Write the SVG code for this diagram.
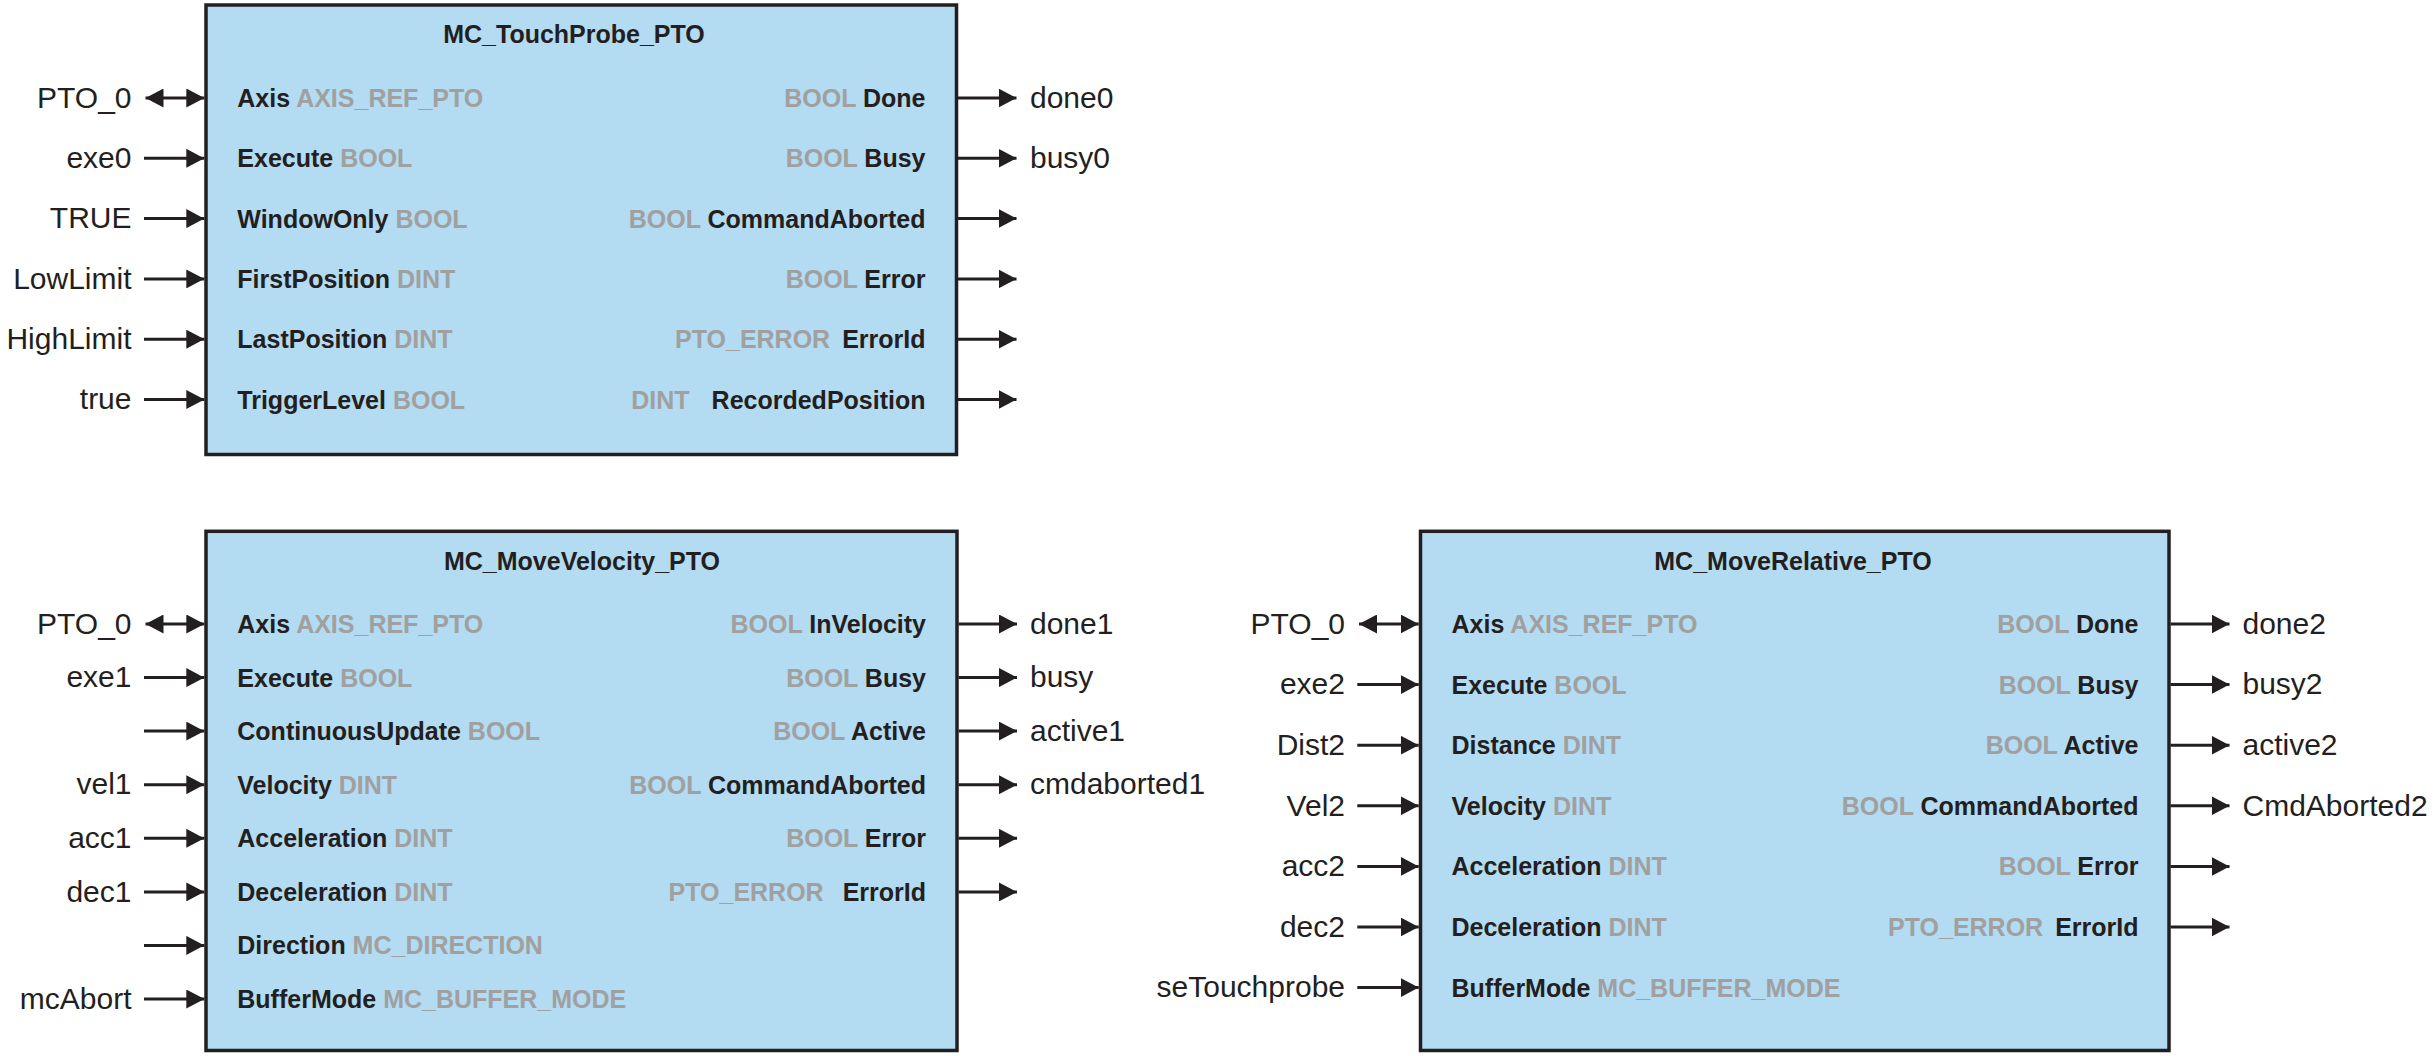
<svg xmlns="http://www.w3.org/2000/svg" width="2436" height="1056" viewBox="0 0 2436 1056">
<style>
text{font-family:"Liberation Sans",Arial,sans-serif;fill:#231f20}
.box{fill:#b3dbf1;stroke:#231f20;stroke-width:3.5}
.title{font-size:25px;font-weight:bold;text-anchor:middle}
.pin{font-size:25px;font-weight:bold}
.pr{text-anchor:end}
.ty{fill:#a0a0a0}
.var{font-size:30px}
.ve{text-anchor:end}
.w{fill:none;stroke:#231f20;stroke-width:3}
.in{marker-end:url(#ah)}
.bi{marker-start:url(#ah);marker-end:url(#ah)}
</style>
<defs>
<marker id="ah" markerUnits="userSpaceOnUse" markerWidth="18" markerHeight="19" refX="18" refY="9.5" orient="auto-start-reverse" viewBox="0 0 18 19">
<path d="M0,0 L18,9.5 L0,19 z" fill="#231f20"/>
</marker>
</defs>
<rect width="2436" height="1056" fill="#ffffff"/>

<g id="node-touchprobe">
<rect class="box" x="206" y="5" width="750.5" height="449.5"/>
<text class="title" x="574" y="43">MC_TouchProbe_PTO</text>
<text class="pin" x="237.3" y="107">Axis <tspan class="ty">AXIS_REF_PTO</tspan></text>
<text class="pin" x="237.3" y="167.3">Execute <tspan class="ty">BOOL</tspan></text>
<text class="pin" x="237.3" y="227.6">WindowOnly <tspan class="ty">BOOL</tspan></text>
<text class="pin" x="237.3" y="287.9">FirstPosition <tspan class="ty">DINT</tspan></text>
<text class="pin" x="237.3" y="348.2">LastPosition <tspan class="ty">DINT</tspan></text>
<text class="pin" x="237.3" y="408.5">TriggerLevel <tspan class="ty">BOOL</tspan></text>
<text class="pin pr" x="925.5" y="107"><tspan class="ty">BOOL</tspan> Done</text>
<text class="pin pr" x="925.5" y="167.3"><tspan class="ty">BOOL</tspan> Busy</text>
<text class="pin pr" x="925.5" y="227.6"><tspan class="ty">BOOL</tspan> CommandAborted</text>
<text class="pin pr" x="925.5" y="287.9"><tspan class="ty">BOOL</tspan> Error</text>
<text class="pin pr" x="925.5" y="348.2"><tspan class="ty">PTO_ERROR</tspan> <tspan dx="5">ErrorId</tspan></text>
<text class="pin pr" x="925.5" y="408.5"><tspan class="ty">DINT</tspan> <tspan dx="15">RecordedPosition</tspan></text>
</g>

<g id="node-movevelocity">
<rect class="box" x="206" y="531.3" width="751" height="519.2"/>
<text class="title" x="582" y="570">MC_MoveVelocity_PTO</text>
<text class="pin" x="237.3" y="633">Axis <tspan class="ty">AXIS_REF_PTO</tspan></text>
<text class="pin" x="237.3" y="686.6">Execute <tspan class="ty">BOOL</tspan></text>
<text class="pin" x="237.3" y="740.1">ContinuousUpdate <tspan class="ty">BOOL</tspan></text>
<text class="pin" x="237.3" y="793.7">Velocity <tspan class="ty">DINT</tspan></text>
<text class="pin" x="237.3" y="847.3">Acceleration <tspan class="ty">DINT</tspan></text>
<text class="pin" x="237.3" y="900.9">Deceleration <tspan class="ty">DINT</tspan></text>
<text class="pin" x="237.3" y="954.4">Direction <tspan class="ty">MC_DIRECTION</tspan></text>
<text class="pin" x="237.3" y="1008">BufferMode <tspan class="ty">MC_BUFFER_MODE</tspan></text>
<text class="pin pr" x="926" y="633"><tspan class="ty">BOOL</tspan> InVelocity</text>
<text class="pin pr" x="926" y="686.6"><tspan class="ty">BOOL</tspan> Busy</text>
<text class="pin pr" x="926" y="740.1"><tspan class="ty">BOOL</tspan> Active</text>
<text class="pin pr" x="926" y="793.7"><tspan class="ty">BOOL</tspan> CommandAborted</text>
<text class="pin pr" x="926" y="847.3"><tspan class="ty">BOOL</tspan> Error</text>
<text class="pin pr" x="926" y="900.9"><tspan class="ty">PTO_ERROR</tspan> <tspan dx="12">ErrorId</tspan></text>
</g>

<g id="node-moverelative">
<rect class="box" x="1420.5" y="531.3" width="748.5" height="519.2"/>
<text class="title" x="1793" y="570">MC_MoveRelative_PTO</text>
<text class="pin" x="1451.5" y="633">Axis <tspan class="ty">AXIS_REF_PTO</tspan></text>
<text class="pin" x="1451.5" y="693.6">Execute <tspan class="ty">BOOL</tspan></text>
<text class="pin" x="1451.5" y="754.2">Distance <tspan class="ty">DINT</tspan></text>
<text class="pin" x="1451.5" y="814.8">Velocity <tspan class="ty">DINT</tspan></text>
<text class="pin" x="1451.5" y="875.4">Acceleration <tspan class="ty">DINT</tspan></text>
<text class="pin" x="1451.5" y="936">Deceleration <tspan class="ty">DINT</tspan></text>
<text class="pin" x="1451.5" y="996.6">BufferMode <tspan class="ty">MC_BUFFER_MODE</tspan></text>
<text class="pin pr" x="2138.5" y="633"><tspan class="ty">BOOL</tspan> Done</text>
<text class="pin pr" x="2138.5" y="693.6"><tspan class="ty">BOOL</tspan> Busy</text>
<text class="pin pr" x="2138.5" y="754.2"><tspan class="ty">BOOL</tspan> Active</text>
<text class="pin pr" x="2138.5" y="814.8"><tspan class="ty">BOOL</tspan> CommandAborted</text>
<text class="pin pr" x="2138.5" y="875.4"><tspan class="ty">BOOL</tspan> Error</text>
<text class="pin pr" x="2138.5" y="936"><tspan class="ty">PTO_ERROR</tspan> <tspan dx="5">ErrorId</tspan></text>
</g>

<g id="connectors">
<path class="w bi" d="M145.5,98 H204.3"/>
<path class="w in" d="M144,158.3 H204.3"/>
<path class="w in" d="M144,218.6 H204.3"/>
<path class="w in" d="M144,278.9 H204.3"/>
<path class="w in" d="M144,339.2 H204.3"/>
<path class="w in" d="M144,399.5 H204.3"/>
<path class="w in" d="M958,98 H1016.5"/>
<path class="w in" d="M958,158.3 H1016.5"/>
<path class="w in" d="M958,218.6 H1016.5"/>
<path class="w in" d="M958,278.9 H1016.5"/>
<path class="w in" d="M958,339.2 H1016.5"/>
<path class="w in" d="M958,399.5 H1016.5"/>
<path class="w bi" d="M145.5,624 H204.3"/>
<path class="w in" d="M144,677.6 H204.3"/>
<path class="w in" d="M144,731.1 H204.3"/>
<path class="w in" d="M144,784.7 H204.3"/>
<path class="w in" d="M144,838.3 H204.3"/>
<path class="w in" d="M144,891.9 H204.3"/>
<path class="w in" d="M144,945.4 H204.3"/>
<path class="w in" d="M144,999 H204.3"/>
<path class="w in" d="M958.5,624 H1017"/>
<path class="w in" d="M958.5,677.6 H1017"/>
<path class="w in" d="M958.5,731.1 H1017"/>
<path class="w in" d="M958.5,784.7 H1017"/>
<path class="w in" d="M958.5,838.3 H1017"/>
<path class="w in" d="M958.5,891.9 H1017"/>
<path class="w bi" d="M1359,624 H1418.7"/>
<path class="w in" d="M1357.3,684.6 H1418.7"/>
<path class="w in" d="M1357.3,745.2 H1418.7"/>
<path class="w in" d="M1357.3,805.8 H1418.7"/>
<path class="w in" d="M1357.3,866.4 H1418.7"/>
<path class="w in" d="M1357.3,927 H1418.7"/>
<path class="w in" d="M1357.3,987.6 H1418.7"/>
<path class="w in" d="M2170.5,624 H2229.5"/>
<path class="w in" d="M2170.5,684.6 H2229.5"/>
<path class="w in" d="M2170.5,745.2 H2229.5"/>
<path class="w in" d="M2170.5,805.8 H2229.5"/>
<path class="w in" d="M2170.5,866.4 H2229.5"/>
<path class="w in" d="M2170.5,927 H2229.5"/>

<text class="var ve" x="131.5" y="107.7">PTO_0</text>
<text class="var ve" x="131.5" y="168">exe0</text>
<text class="var ve" x="131.5" y="228.3">TRUE</text>
<text class="var ve" x="131.5" y="288.6">LowLimit</text>
<text class="var ve" x="131.5" y="348.9">HighLimit</text>
<text class="var ve" x="131.5" y="409.2">true</text>
<text class="var" x="1030" y="107.7">done0</text>
<text class="var" x="1030" y="168">busy0</text>

<text class="var ve" x="131.5" y="633.7">PTO_0</text>
<text class="var ve" x="131.5" y="687.3">exe1</text>
<text class="var ve" x="131.5" y="794.4">vel1</text>
<text class="var ve" x="131.5" y="848">acc1</text>
<text class="var ve" x="131.5" y="901.6">dec1</text>
<text class="var ve" x="131.5" y="1008.7">mcAbort</text>
<text class="var" x="1030" y="633.7">done1</text>
<text class="var" x="1030" y="687.3">busy</text>
<text class="var" x="1030" y="740.8">active1</text>
<text class="var" x="1030" y="794.4">cmdaborted1</text>

<text class="var ve" x="1345" y="633.7">PTO_0</text>
<text class="var ve" x="1345" y="694.3">exe2</text>
<text class="var ve" x="1345" y="754.9">Dist2</text>
<text class="var ve" x="1345" y="815.5">Vel2</text>
<text class="var ve" x="1345" y="876.1">acc2</text>
<text class="var ve" x="1345" y="936.7">dec2</text>
<text class="var ve" x="1345" y="997.3">seTouchprobe</text>
<text class="var" x="2242.5" y="633.7">done2</text>
<text class="var" x="2242.5" y="694.3">busy2</text>
<text class="var" x="2242.5" y="754.9">active2</text>
<text class="var" x="2242.5" y="815.5">CmdAborted2</text>
</g>
</svg>
